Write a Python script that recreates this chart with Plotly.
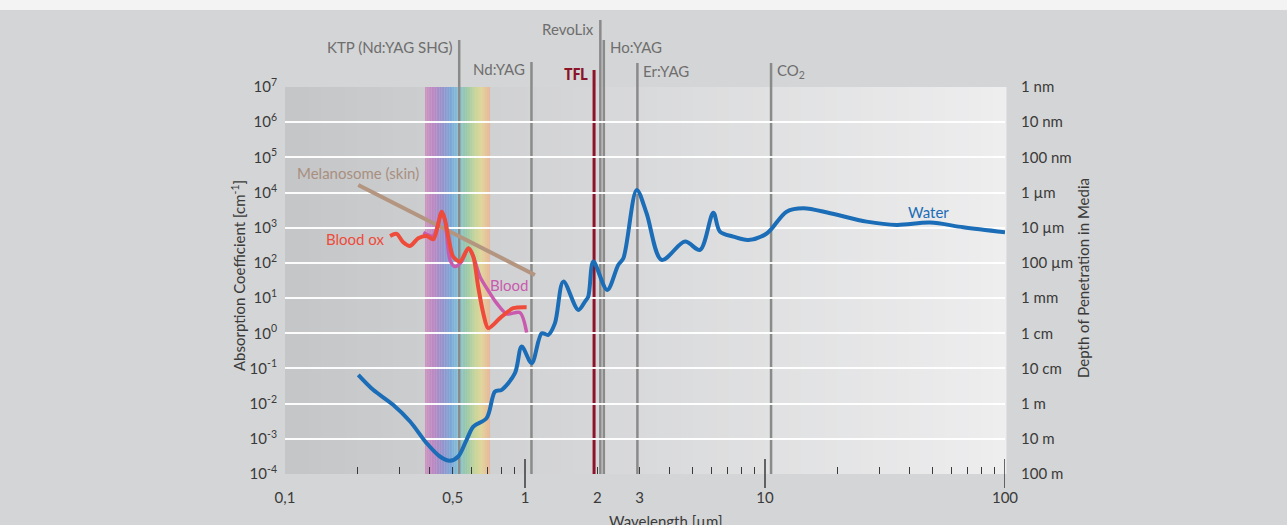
import numpy as np
import plotly.graph_objects as go

# ---------------- data ----------------
water_wl = [0.202, 0.233, 0.282, 0.332, 0.389, 0.442, 0.487, 0.527, 0.571, 0.609, 0.692, 0.75, 0.80,
            0.908, 0.969, 1.066, 1.174, 1.25, 1.333, 1.445, 1.667, 1.778, 1.835, 1.926, 2.20, 2.446,
            2.57, 2.92, 3.21, 3.71, 4.64, 5.36, 6.09, 6.49, 7.38, 8.52, 10.2, 12.3, 14.45, 18.7,
            26.5, 35.4, 48.7, 67.0, 100]
water_abs = [0.0658, 0.0247, 0.00925, 0.0031, 0.000755, 0.000314, 0.000237, 0.000314, 0.000937,
             0.00223, 0.00387, 0.0221, 0.0247, 0.0735, 0.419, 0.1415, 1.0, 0.90, 1.94, 29.4, 4.62,
             7.96, 11.0, 109, 17.1, 87.8, 136, 11860, 2582, 121.6, 403, 234, 2685, 775, 558, 450,
             698, 2866, 3580, 2582, 1490, 1202, 1397, 1033, 745]

bloodox_wl = [0.274, 0.292, 0.310, 0.332, 0.359, 0.389, 0.415, 0.450, 0.464, 0.479, 0.502, 0.536,
              0.581, 0.609, 0.638, 0.670, 0.703, 0.787, 0.893, 1.016]
bloodox_abs = [585, 667, 395, 304, 503, 585, 471, 2866, 1667, 558, 151, 109, 262, 151, 21.2, 3.72,
               1.40, 2.69, 5.16, 5.51]

blood_wl = [0.377, 0.415, 0.450, 0.464, 0.487, 0.511, 0.544, 0.581, 0.609, 0.649, 0.714, 0.762,
            0.839, 0.953, 1.016]
blood_abs = [726, 585, 2866, 1667, 122, 78.5, 109, 262, 151, 40.8, 13.8, 7.16, 3.56, 3.87, 1.05]

melano_wl = [0.202, 1.10]
melano_abs = [16440, 45.6]

visible_band = [0.383, 0.715]

laser_names = ["KTP (Nd:YAG SHG)", "Nd:YAG", "TFL", "RevoLix", "Ho:YAG", "Er:YAG", "CO<sub>2</sub>"]
laser_wl = [0.532, 1.064, 1.94, 2.06, 2.13, 2.94, 10.6]

x_tickvals = [0.1, 0.5, 1, 2, 3, 10, 100]
x_ticktext = ["0,1", "0,5", "1", "2", "3", "10", "100"]
x_major = [1, 10, 100]
x_minor = [0.2, 0.3, 0.4, 0.5, 0.6, 0.7, 0.8, 0.9, 2, 3, 4, 5, 6, 7, 8, 9,
           20, 30, 40, 50, 60, 70, 80, 90]

y_exps = [7, 6, 5, 4, 3, 2, 1, 0, -1, -2, -3, -4]
y_tickvals = [10.0 ** e for e in y_exps]
y_ticktext = ["10<sup>%d</sup>" % e for e in y_exps]
depth_text = ["1 nm", "10 nm", "100 nm", "1 µm", "10 µm", "100 µm", "1 mm", "1 cm", "10 cm",
              "1 m", "10 m", "100 m"]

# ---------------- styles ----------------
FONT = "Lato"
WATER_C = "#1a6db6"
BLOODOX_C = "#ee4b3a"
BLOOD_C = "#c95aae"
MELANO_C = "#b39580"
LASER_C = "#8a8a8a"
TFL_C = "#8c1428"
LABEL_C = "#6e6e6e"
TICK_C = "#3a3a3a"

W, H = 1287, 525
ML, MR, MT, MB = 285, 282, 87, 51
PW, PH = W - ML - MR, H - MT - MB


def py2paper(py):
    return (H - MB - py) / PH


def px2paper(px):
    return (px - ML) / PW


fig = go.Figure()

fig.add_trace(go.Scatter(x=melano_wl, y=melano_abs, mode="lines",
                         line=dict(color=MELANO_C, width=4), hoverinfo="skip", showlegend=False))
fig.add_trace(go.Scatter(x=blood_wl, y=blood_abs, mode="lines",
                         line=dict(color=BLOOD_C, width=3.5, shape="spline", smoothing=0.8),
                         hoverinfo="skip", showlegend=False))
fig.add_trace(go.Scatter(x=bloodox_wl, y=bloodox_abs, mode="lines",
                         line=dict(color=BLOODOX_C, width=4, shape="spline", smoothing=0.8),
                         hoverinfo="skip", showlegend=False))
fig.add_trace(go.Scatter(x=water_wl, y=water_abs, mode="lines",
                         line=dict(color=WATER_C, width=4, shape="spline", smoothing=0.9),
                         hoverinfo="skip", showlegend=False))

shapes = []
# top light strip
shapes.append(dict(type="rect", xref="paper", yref="paper", x0=px2paper(0), x1=px2paper(W),
                   y0=py2paper(10), y1=py2paper(0), fillcolor="#f3f3f3", line=dict(width=0),
                   layer="below"))
# plot background gradient
N = 60
c0 = np.array([197, 198, 200])
c1 = np.array([238, 238, 239])
for i in range(N):
    t = i / (N - 1)
    c = c0 + (c1 - c0) * t
    shapes.append(dict(type="rect", xref="paper", yref="paper", x0=i / N, x1=(i + 1) / N + 0.002,
                       y0=0, y1=1, fillcolor="rgb(%d,%d,%d)" % tuple(c.astype(int)),
                       line=dict(width=0), layer="below"))
# visible spectrum band
stops = [(0.0, (206, 150, 192)), (0.12, (190, 136, 196)), (0.27, (150, 146, 206)),
         (0.40, (122, 168, 216)), (0.52, (135, 198, 216)), (0.63, (150, 200, 170)),
         (0.76, (196, 214, 152)), (0.87, (228, 214, 152)), (1.0, (232, 182, 152))]
NB = 40
lo, hi = np.log10(visible_band[0]), np.log10(visible_band[1])
sp = np.array([s[0] for s in stops])
sc = np.array([s[1] for s in stops])
for i in range(NB):
    t = (i + 0.5) / NB
    c = [np.interp(t, sp, sc[:, k]) for k in range(3)]
    shapes.append(dict(type="rect", xref="x", yref="paper",
                       x0=10 ** (lo + (hi - lo) * i / NB), x1=10 ** (lo + (hi - lo) * (i + 1.05) / NB),
                       y0=0, y1=1, fillcolor="rgb(%d,%d,%d)" % tuple(int(v) for v in c),
                       line=dict(width=0), layer="below"))

# laser lines
laser_top_px = [40, 62, 70, 20, 40, 63, 63]
laser_lab_px = [47, 69, 75, 29, 47, 71, 71]
laser_side = ["left", "left", "left", "left", "right", "right", "right"]
annotations = []
for name, wl, top, lab, side in zip(laser_names, laser_wl, laser_top_px, laser_lab_px, laser_side):
    col = TFL_C if name == "TFL" else LASER_C
    shapes.append(dict(type="line", xref="x", yref="paper", x0=wl, x1=wl, y0=0, y1=py2paper(top),
                       line=dict(color=col, width=3 if name == "TFL" else 2.5), layer="between"))
    if name == "TFL":
        fnt = dict(family="Roboto Condensed, " + FONT, size=16, color=TFL_C)
        txt = "<b>TFL</b>"
    else:
        fnt = dict(family=FONT, size=15, color=LABEL_C)
        txt = name
    annotations.append(dict(x=np.log10(wl), y=py2paper(lab), xref="x", yref="paper", text=txt,
                            showarrow=False, font=fnt,
                            xanchor="right" if side == "left" else "left",
                            xshift=-4 if side == "left" else 4, yanchor="middle"))

# major ticks at 1, 10, 100 crossing axis
for v in x_major:
    shapes.append(dict(type="line", xref="x", yref="paper", x0=v, x1=v,
                       y0=py2paper(488), y1=py2paper(459), line=dict(color=TICK_C, width=1.5),
                       layer="above"))

# curve labels
annotations += [
    dict(x=np.log10(0.202), y=py2paper(173), xref="x", yref="paper", text="Melanosome (skin)",
         showarrow=False, font=dict(family=FONT, size=15, color="#a88f80"),
         xanchor="center", yanchor="middle"),
    dict(x=np.log10(0.266), y=py2paper(239), xref="x", yref="paper", text="Blood ox",
         showarrow=False, font=dict(family=FONT, size=15, color=BLOODOX_C),
         xanchor="right", yanchor="middle"),
    dict(x=np.log10(0.858), y=py2paper(285), xref="x", yref="paper", text="Blood",
         showarrow=False, font=dict(family=FONT, size=15, color=BLOOD_C),
         xanchor="center", yanchor="middle"),
    dict(x=np.log10(48), y=py2paper(212), xref="x", yref="paper", text="Water",
         showarrow=False, font=dict(family=FONT, size=15, color=WATER_C),
         xanchor="center", yanchor="middle"),
    # axis titles
    dict(x=px2paper(238), y=py2paper(276), xref="paper", yref="paper",
         text="Absorption Coefficient [cm<sup>-1</sup>]", textangle=-90, showarrow=False,
         xanchor="center", yanchor="middle",
         font=dict(family=FONT, size=15, color=TICK_C)),
    dict(x=px2paper(1083), y=py2paper(278), xref="paper", yref="paper",
         text="Depth of Penetration in Media", textangle=-90, showarrow=False,
         xanchor="center", yanchor="middle",
         font=dict(family=FONT, size=15, color=TICK_C)),
    dict(x=px2paper(665), y=py2paper(521), xref="paper", yref="paper",
         text="Wavelength [µm]", showarrow=False, xanchor="center", yanchor="middle",
         font=dict(family=FONT, size=15, color=TICK_C)),
]

common_x = dict(type="log", range=[-1, 2], showgrid=False, zeroline=False, showline=False)

fig.update_layout(
    width=W, height=H,
    margin=dict(l=ML, r=MR, t=MT, b=MB),
    paper_bgcolor="#d4d5d6",
    plot_bgcolor="#d4d5d6",
    font=dict(family=FONT, size=15, color=TICK_C),
    showlegend=False,
    shapes=shapes,
    annotations=annotations,
    xaxis=dict(**common_x, tickvals=x_tickvals, ticktext=x_ticktext, ticks="outside",
               ticklen=10, tickcolor="rgba(0,0,0,0)", tickfont=dict(size=15, color=TICK_C)),
    xaxis2=dict(**common_x, overlaying="x", anchor="y", side="bottom", tickvals=x_minor,
                ticktext=[""] * len(x_minor), ticks="inside", ticklen=7, tickwidth=1.2,
                tickcolor=TICK_C, showticklabels=False),
    yaxis=dict(type="log", range=[-4, 7], tickvals=y_tickvals, ticktext=y_ticktext,
               showgrid=True, gridcolor="rgba(255,255,255,0.95)", gridwidth=2,
               zeroline=False, showline=False, ticks="outside", ticklen=4,
               tickcolor="rgba(0,0,0,0)", tickfont=dict(size=15, color=TICK_C)),
    yaxis2=dict(type="log", range=[-4, 7], overlaying="y", side="right", anchor="x",
                tickvals=y_tickvals, ticktext=depth_text, showgrid=False, zeroline=False,
                showline=False, ticks="outside", ticklen=12, tickcolor="rgba(0,0,0,0)",
                tickfont=dict(size=15, color=TICK_C)),
)

# invisible trace so the overlay axes (minor ticks, depth scale) render
fig.add_trace(go.Scatter(x=[1], y=[1], xaxis="x2", yaxis="y2", mode="markers",
                         marker=dict(opacity=0), hoverinfo="skip", showlegend=False))

fig.write_html("out.html")
